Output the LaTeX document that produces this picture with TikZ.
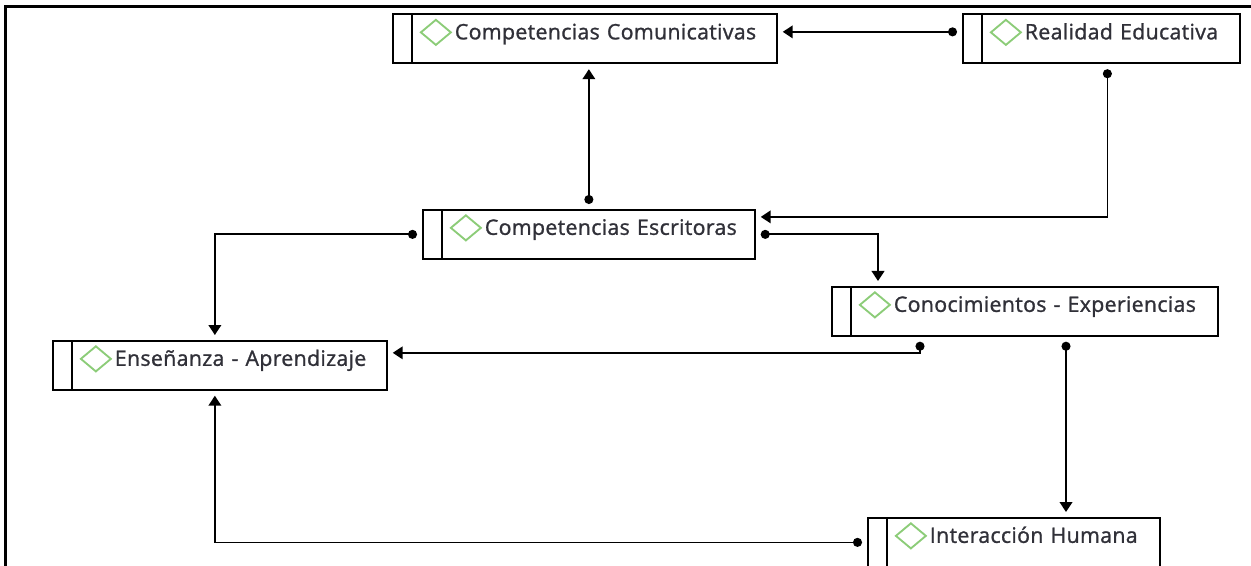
\documentclass[tikz,border=0pt]{standalone}
\usepackage{fontspec}
\setmainfont{Open Sans}[LetterSpace=1.5, FakeBold=1.2]
\usetikzlibrary{arrows.meta}

\definecolor{diamondgreen}{RGB}{140,204,120}
\definecolor{textgray}{RGB}{48,48,56}

\begin{document}
\begin{tikzpicture}[x=0.75pt, y=-0.75pt, line width=1.3pt,
	link/.style={{Circle[length=6.75pt]}-{Triangle[length=7.5pt, width=9.5pt]}, shorten <=3.75pt, shorten >=3.75pt},
	concept/.style={draw, anchor=north west, text width=#1, align=left, inner xsep=0pt, inner ysep=0pt, text height=18.75pt, text depth=18pt, text=textgray, font=\fontsize{16}{18}\selectfont, execute at begin node={\hspace*{46.5pt}}, path picture={
		\draw ([xshift=14.25pt]path picture bounding box.north west) -- ([xshift=14.25pt]path picture bounding box.south west);
		\draw[diamondgreen, line width=1.4pt] ([shift={(21pt,-13.5pt)}]path picture bounding box.north west) -- ([shift={(32.25pt,-4.1pt)}]path picture bounding box.north west) -- ([shift={(43.5pt,-13.5pt)}]path picture bounding box.north west) -- ([shift={(32.25pt,-22.9pt)}]path picture bounding box.north west) -- cycle;
	}}]
	\useasboundingbox (0,0) rectangle (1251,566);
	\draw[line width=1.6pt] (5.5,566) -- (5.5,6.5) -- (1251,6.5);

	\node[concept=288pt] (CC) at (392,13.5) {Competencias Comunicativas};
	\node[concept=207.75pt] (RE) at (962,13.5) {Realidad Educativa};
	\node[concept=249pt] (CE) at (422,209) {Competencias Escritoras};
	\node[concept=289.5pt] (CK) at (831,286) {Conocimientos - Experiencias};
	\node[concept=250.5pt] (EA) at (52,340) {Enseñanza - Aprendizaje};
	\node[concept=219pt] (IH) at (867,517) {Interacción Humana};

	\draw[link] ([yshift=5.25pt]RE.west) -- ([yshift=5.25pt]CC.east);
	\draw[link] (CE.north) -- (CE.north |- CC.south);
	\draw[link] ([xshift=4.5pt]RE.south) |- ([yshift=13.1pt]CE.east);
	\draw[link] (CE.east) -| ([xshift=35.25pt]CK.north west);
	\draw[link] (CE.west) -| ([xshift=-3.75pt]EA.north);
	\draw[link] ([xshift=66.75pt]CK.south west) |- ([yshift=9.4pt]EA.east);
	\draw[link] ([xshift=176.25pt]CK.south west) -- ([xshift=149.25pt]IH.north west);
	\draw[link] (IH.west) -| ([xshift=-3.75pt]EA.south);

\end{tikzpicture}
\end{document}
